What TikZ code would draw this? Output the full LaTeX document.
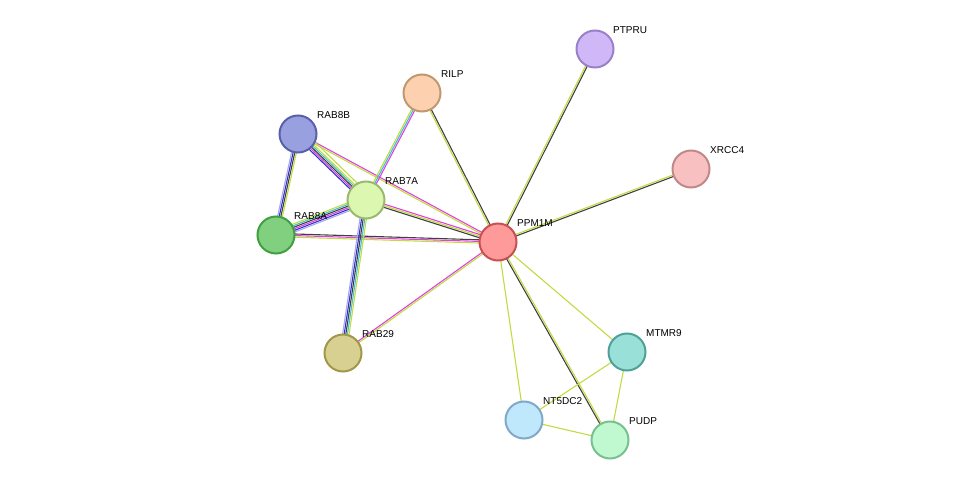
\documentclass[tikz,border=0pt]{standalone}
\usepackage{fontspec}
\setmainfont{Liberation Sans}
\usetikzlibrary{calc}
\definecolor{yg}{HTML}{C0DC40}
\definecolor{dk}{HTML}{404040}
\definecolor{mg}{HTML}{E040E0}
\definecolor{bl}{HTML}{3030D0}
\definecolor{cy}{HTML}{40C0D0}
\definecolor{lb}{HTML}{A8A8F0}
\tikzset{prot/.style={circle,minimum size=37pt,inner sep=0pt,line width=2pt},
lbl/.style={anchor=south west,font=\fontsize{10pt}{10pt}\selectfont,inner sep=1pt},
ed/.style={line width=1.1pt}}
\newcommand\edg[3]{\foreach \c/\o in {#3}{\draw[ed,draw=\c] ($(#1)!\o pt!90:(#2)$) -- ($(#2)!\o pt!-90:(#1)$);}}
\begin{document}
\begin{tikzpicture}[x=1pt,y=-1pt]
\useasboundingbox (0,0) rectangle (975,486);
\coordinate (ppm) at (498,242);
\coordinate (ptp) at (595,49);
\coordinate (xrc) at (691,169);
\coordinate (ril) at (422,93);
\coordinate (r8b) at (298,134);
\coordinate (r7a) at (366,200);
\coordinate (r8a) at (276,235);
\coordinate (r29) at (343,353);
\coordinate (mtm) at (627,352);
\coordinate (nt5) at (524,420);
\coordinate (pud) at (610,440);
\edg{ppm}{ptp}{dk/-0.8,yg/0.8}
\edg{ppm}{xrc}{dk/-0.8,yg/0.8}
\edg{ppm}{ril}{dk/-0.8,yg/0.8}
\edg{ppm}{r8b}{mg/-0.8,yg/0.8}
\edg{ppm}{r7a}{mg/-1.6,yg/0,dk/1.6}
\edg{ppm}{r8a}{dk/-1.6,mg/0,yg/1.6}
\edg{ppm}{r29}{mg/-0.8,yg/0.8}
\edg{ppm}{mtm}{yg/0}
\edg{ppm}{nt5}{yg/0}
\edg{ppm}{pud}{dk/-0.8,yg/0.8}
\edg{mtm}{nt5}{yg/0}
\edg{mtm}{pud}{yg/0}
\edg{nt5}{pud}{yg/0}
\edg{ril}{r7a}{yg/-1.6,cy/0,mg/1.6}
\edg{r8b}{r7a}{bl/-3.2,mg/-1.6,dk/0,cy/1.6,yg/3.2}
\edg{r8b}{r8a}{lb/-2.4,bl/-0.8,dk/0.8,yg/2.4}
\edg{r8a}{r7a}{lb/-4,bl/-2.4,mg/-0.8,dk/0.8,cy/2.4,yg/4}
\edg{r7a}{r29}{lb/-3.2,bl/-1.6,dk/0,cy/1.6,yg/3.2}
\edg{r8b}{r7a}{yg/6}
\node[prot,fill={rgb,255:red,255;green,154;blue,154},draw={rgb,255:red,200;green,80;blue,80}] (PPM1M) at (ppm) {};
\node[prot,fill={rgb,255:red,208;green,184;blue,248},draw={rgb,255:red,154;green,128;blue,200}] (PTPRU) at (ptp) {};
\node[prot,fill={rgb,255:red,248;green,192;blue,192},draw={rgb,255:red,192;green,136;blue,136}] (XRCC4) at (xrc) {};
\node[prot,fill={rgb,255:red,253;green,208;blue,176},draw={rgb,255:red,192;green,152;blue,112}] (RILP) at (ril) {};
\node[prot,fill={rgb,255:red,152;green,160;blue,224},draw={rgb,255:red,88;green,96;blue,168}] (RAB8B) at (r8b) {};
\node[prot,fill={rgb,255:red,220;green,248;blue,176},draw={rgb,255:red,154;green,184;blue,112}] (RAB7A) at (r7a) {};
\node[prot,fill={rgb,255:red,128;green,208;blue,128},draw={rgb,255:red,64;green,160;blue,64}] (RAB8A) at (r8a) {};
\node[prot,fill={rgb,255:red,216;green,208;blue,144},draw={rgb,255:red,160;green,152;blue,72}] (RAB29) at (r29) {};
\node[prot,fill={rgb,255:red,152;green,224;blue,216},draw={rgb,255:red,80;green,160;blue,152}] (MTMR9) at (mtm) {};
\node[prot,fill={rgb,255:red,192;green,232;blue,252},draw={rgb,255:red,128;green,168;blue,200}] (NT5DC2) at (nt5) {};
\node[prot,fill={rgb,255:red,192;green,248;blue,208},draw={rgb,255:red,120;green,192;blue,144}] (PUDP) at (pud) {};
\node[lbl] at (516,228) {PPM1M};
\node[lbl] at (612,35) {PTPRU};
\node[lbl] at (709,155) {XRCC4};
\node[lbl] at (440,79) {RILP};
\node[lbl] at (316,120) {RAB8B};
\node[lbl] at (384,186) {RAB7A};
\node[lbl] at (293,221) {RAB8A};
\node[lbl] at (361,339) {RAB29};
\node[lbl] at (645,338) {MTMR9};
\node[lbl] at (542,406) {NT5DC2};
\node[lbl] at (628,426) {PUDP};
\end{tikzpicture}
\end{document}
